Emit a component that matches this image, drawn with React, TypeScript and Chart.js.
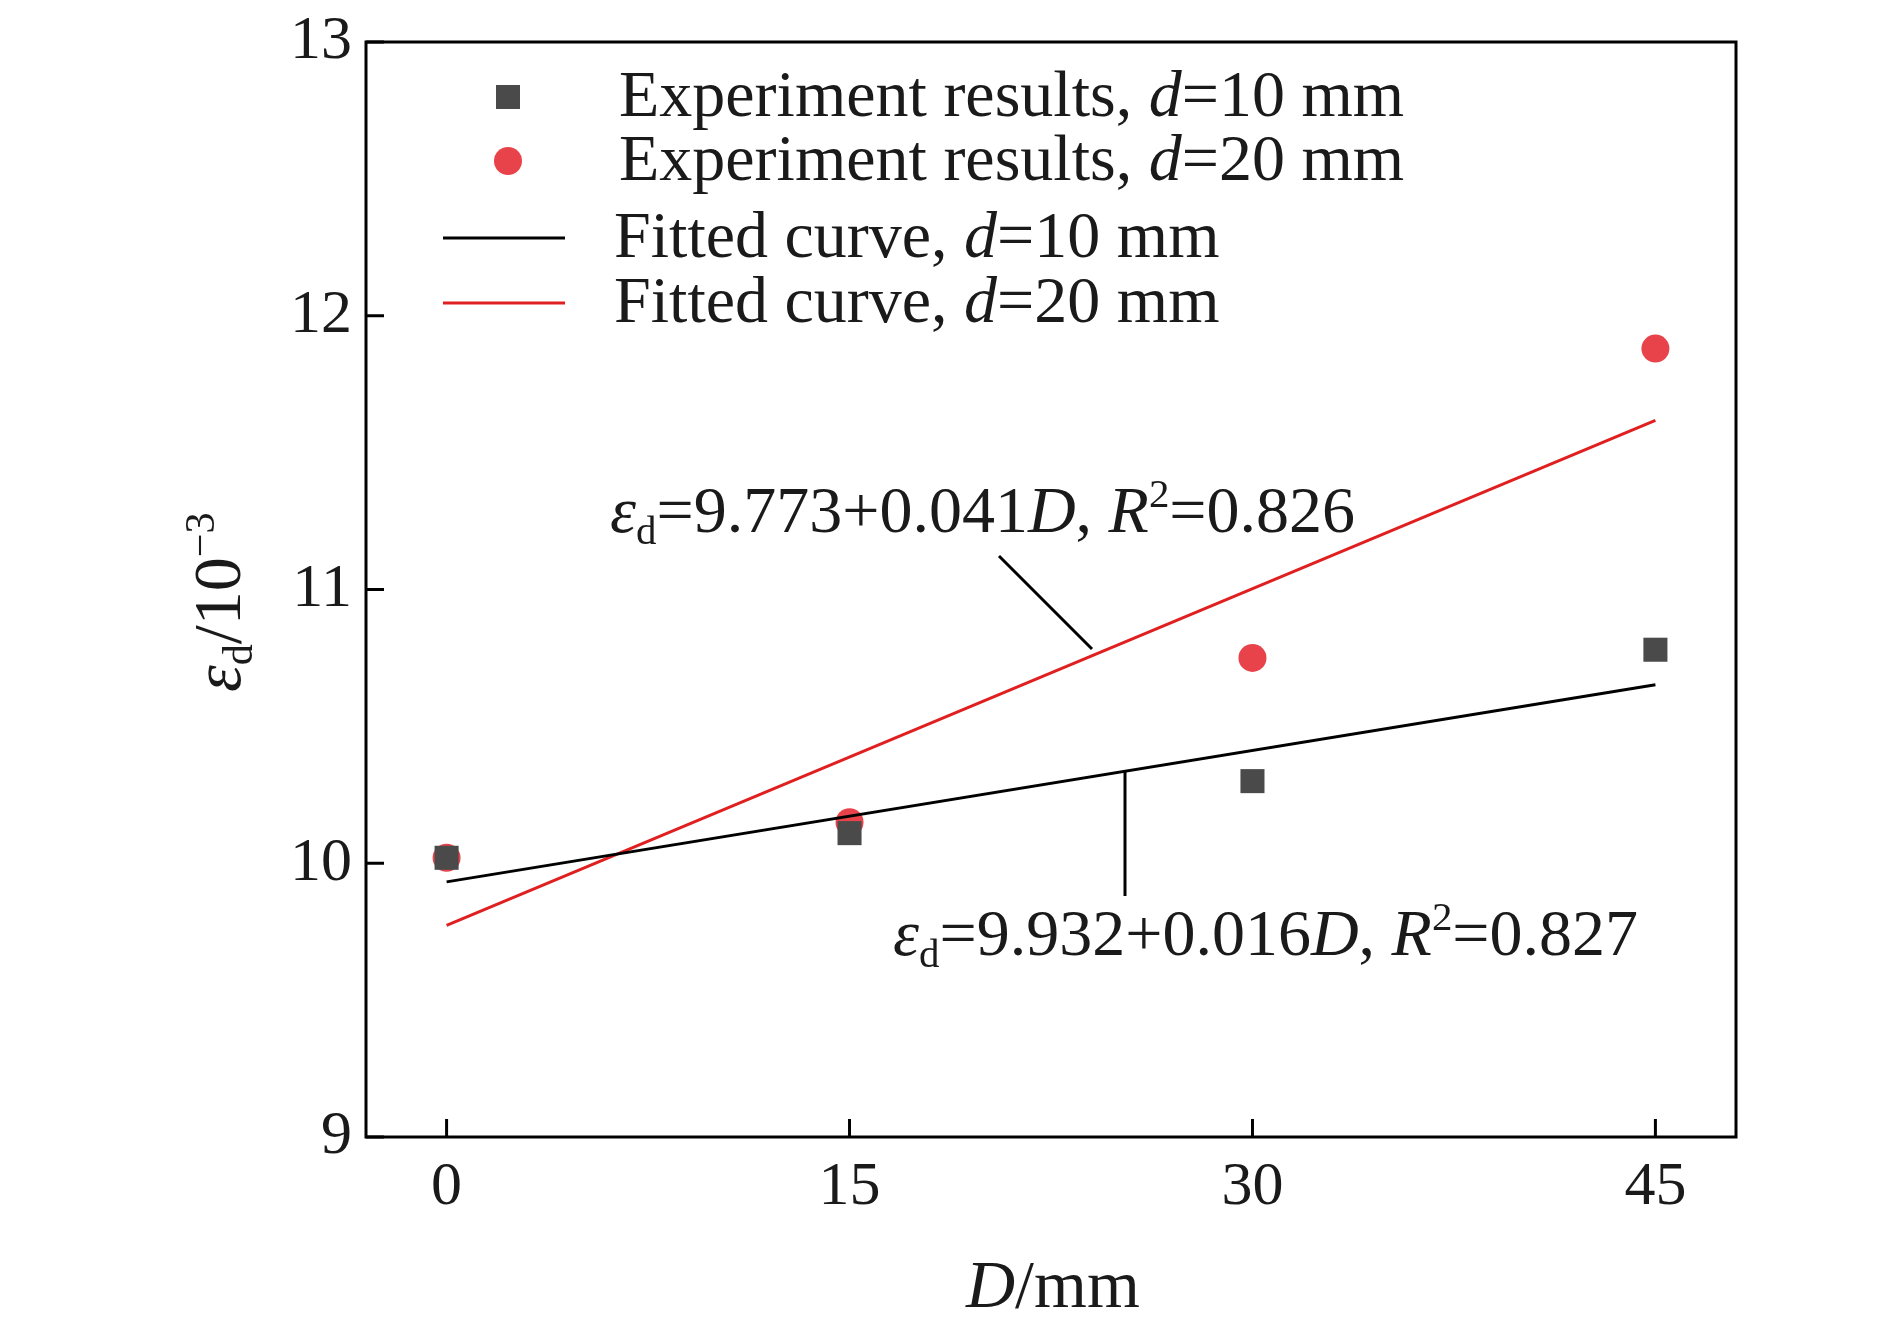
import React, { useEffect, useRef } from "react";
import { Chart, registerables } from "chart.js";
Chart.register(...registerables);

const xTicks = [0, 15, 30, 45];
const yTicks = [9, 10, 11, 12, 13];
const diam = [0, 15, 30, 45];
const expD10 = [10.02, 10.11, 10.3, 10.78];
const expD20 = [10.02, 10.15, 10.75, 11.88];
const fitD10 = [9.932, 0.016];
const fitD20 = [9.773, 0.041];

const SERIF = '"Liberation Serif", "DejaVu Serif", serif';
type Seg = { t: string; it?: boolean; sub?: boolean; sup?: boolean };

function drawRich(ctx: CanvasRenderingContext2D, segs: Seg[], x: number, y: number, size: number) {
  let cx = x;
  for (const s of segs) {
    const sz = s.sub || s.sup ? size * 0.62 : size;
    ctx.font = `${s.it ? "italic " : ""}${sz}px ${SERIF}`;
    const dy = s.sub ? size * 0.18 : s.sup ? -size * 0.38 : 0;
    ctx.fillText(s.t, cx, y + dy);
    cx += ctx.measureText(s.t).width;
  }
}

const plugin = {
  id: "deco",
  afterDraw(chart: any) {
    const ctx: CanvasRenderingContext2D = chart.ctx;
    const a = chart.chartArea;
    const xs = chart.scales.x, ys = chart.scales.y;
    ctx.save();
    ctx.strokeStyle = "#000"; ctx.lineWidth = 3;
    ctx.strokeRect(a.left, a.top, a.right - a.left, a.bottom - a.top);
    ctx.fillStyle = "#1a1a1a";
    ctx.font = `62px ${SERIF}`;
    ctx.textAlign = "center"; ctx.textBaseline = "top";
    for (const v of xTicks) {
      const px = xs.getPixelForValue(v);
      ctx.beginPath(); ctx.moveTo(px, a.bottom); ctx.lineTo(px, a.bottom - 18); ctx.stroke();
      ctx.fillText(String(v), px, a.bottom + 20);
    }
    ctx.textAlign = "right"; ctx.textBaseline = "middle";
    for (const v of yTicks) {
      const py = ys.getPixelForValue(v);
      ctx.beginPath(); ctx.moveTo(a.left, py); ctx.lineTo(a.left + 18, py); ctx.stroke();
      ctx.fillText(String(v), a.left - 14, py);
    }
    ctx.textAlign = "left"; ctx.textBaseline = "alphabetic";
    drawRich(ctx, [{ t: "D", it: true }, { t: "/mm" }], 966, 1307, 68);
    ctx.save(); ctx.translate(240, 692); ctx.rotate(-Math.PI / 2);
    drawRich(ctx, [{ t: "ε", it: true }, { t: "d", sub: true }, { t: "/10" }, { t: "−3", sup: true }], 0, 0, 68);
    ctx.restore();
    // legend
    ctx.fillStyle = "#4a4a4a"; ctx.fillRect(496, 85, 24, 24);
    ctx.fillStyle = "#e8434a"; ctx.beginPath(); ctx.arc(508, 161, 14, 0, Math.PI * 2); ctx.fill();
    ctx.lineWidth = 3;
    ctx.strokeStyle = "#000"; ctx.beginPath(); ctx.moveTo(443, 238); ctx.lineTo(565, 238); ctx.stroke();
    ctx.strokeStyle = "#e02020"; ctx.beginPath(); ctx.moveTo(443, 303); ctx.lineTo(565, 303); ctx.stroke();
    ctx.fillStyle = "#1a1a1a";
    drawRich(ctx, [{ t: "Experiment results, " }, { t: "d", it: true }, { t: "=10 mm" }], 619, 116, 66);
    drawRich(ctx, [{ t: "Experiment results, " }, { t: "d", it: true }, { t: "=20 mm" }], 619, 180, 66);
    drawRich(ctx, [{ t: "Fitted curve, " }, { t: "d", it: true }, { t: "=10 mm" }], 614, 257, 66);
    drawRich(ctx, [{ t: "Fitted curve, " }, { t: "d", it: true }, { t: "=20 mm" }], 614, 322, 66);
    drawRich(ctx, [{ t: "ε", it: true }, { t: "d", sub: true }, { t: "=9.773+0.041" }, { t: "D", it: true }, { t: ", " }, { t: "R", it: true }, { t: "2", sup: true }, { t: "=0.826" }], 610, 532, 66);
    drawRich(ctx, [{ t: "ε", it: true }, { t: "d", sub: true }, { t: "=9.932+0.016" }, { t: "D", it: true }, { t: ", " }, { t: "R", it: true }, { t: "2", sup: true }, { t: "=0.827" }], 893, 955, 66);
    ctx.strokeStyle = "#000"; ctx.lineWidth = 3;
    ctx.beginPath(); ctx.moveTo(999, 556); ctx.lineTo(1092, 649); ctx.stroke();
    ctx.beginPath(); ctx.moveTo(1125, 770); ctx.lineTo(1125, 896); ctx.stroke();
    ctx.restore();
  },
};

export default function App() {
  const ref = useRef<HTMLCanvasElement>(null);
  useEffect(() => {
    const line = (c: number[]) => [0, 45].map((x) => ({ x, y: c[0] + c[1] * x }));
    const chart = new Chart(ref.current!, {
      type: "scatter",
      data: {
        datasets: [
          { type: "line", data: line(fitD10), borderColor: "#000", borderWidth: 3, pointRadius: 0 } as any,
          { type: "line", data: line(fitD20), borderColor: "#e02020", borderWidth: 3, pointRadius: 0 } as any,
          { data: diam.map((x, i) => ({ x, y: expD10[i] })), pointStyle: "rect", pointRadius: 17, backgroundColor: "#4a4a4a", borderWidth: 0 },
          { data: diam.map((x, i) => ({ x, y: expD20[i] })), pointStyle: "circle", pointRadius: 14, backgroundColor: "#e8434a", borderWidth: 0 },
        ],
      },
      options: {
        animation: false, responsive: false,
        layout: { padding: { left: 366, top: 42, right: 154, bottom: 189 } },
        plugins: { legend: { display: false }, tooltip: { enabled: false } },
        scales: {
          x: { type: "linear", min: -3, max: 48, display: false },
          y: { type: "linear", min: 9, max: 13, display: false },
        },
      },
      plugins: [plugin],
    });
    return () => chart.destroy();
  }, []);
  return (
    <div style={{ position: "absolute", left: 0, top: 0, background: "#fff" }}>
      <canvas ref={ref} width={1890} height={1326} style={{ width: 1890, height: 1326, display: "block" }} />
    </div>
  );
}
